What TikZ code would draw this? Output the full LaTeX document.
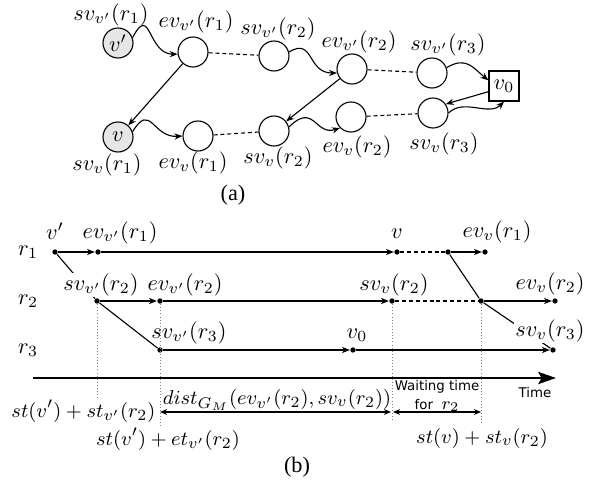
\documentclass[tikz,border=0pt]{standalone}
\usepackage{amsmath}
\usepackage{fontspec}
\usepackage{tikz}
\usetikzlibrary{arrows.meta}
\newfontfamily\capfont{Liberation Serif}
\newfontfamily\tagfont{DejaVu Sans}
\definecolor{srcgray}{RGB}{230,230,230}

\begin{document}
\begin{tikzpicture}[x=0.45pt, y=-0.45pt,
  evnode/.style={circle, draw, line width=0.5pt, minimum size=13.5pt, inner sep=0pt},
  srcnode/.style={evnode, fill=srcgray},
  boxnode/.style={rectangle, draw, line width=0.5pt, minimum size=13.5pt, inner sep=0pt},
  arr/.style={line width=0.5pt, -{Stealth[length=3.6pt, width=2.8pt]}},
  link/.style={line width=0.5pt, dash pattern=on 1.8pt off 1.3pt},
  dot/.style={circle, fill, inner sep=0pt, minimum size=2.4pt},
  guide/.style={gray, line width=0.4pt, densely dotted},
  cover/.style={fill=white, inner sep=0.5pt},
  small/.style={font=\fontsize{9.3}{11}\selectfont, inner sep=1pt},
  axis/.style={line width=0.9pt, -{Stealth[length=8pt, width=5.5pt, inset=1.5pt]}},
  span/.style={line width=0.5pt, {Stealth[length=3.2pt, width=2.6pt]}-{Stealth[length=3.2pt, width=2.6pt]}}]

\useasboundingbox (0,0) rectangle (592,485);

% ---------------- (a) ----------------
% Nodes
\node[srcnode] (vp) at (118,43) {$v'$};
\node[evnode] (evp1) at (193,52) {};
\node[evnode] (svp2) at (274,56) {};
\node[evnode] (evp2) at (352,69) {};
\node[evnode] (svp3) at (432,73) {};
\node[boxnode] (vz) at (504,86) {$v_0$};
\node[evnode] (sv3) at (433,113) {};
\node[evnode] (ev2) at (351,117) {};
\node[evnode] (sv2) at (274,131) {};
\node[evnode] (ev1) at (198,136) {};
\node[srcnode] (vv) at (118,137) {$v$};

% Labels
\node at (111,15) {$sv_{v'}(r_1)$};
\node at (196,22) {$ev_{v'}(r_1)$};
\node at (278,29) {$sv_{v'}(r_2)$};
\node at (359,42) {$ev_{v'}(r_2)$};
\node at (448,45) {$sv_{v'}(r_3)$};
\node at (107,165) {$sv_v(r_1)$};
\node at (193,163) {$ev_v(r_1)$};
\node at (278,158) {$sv_v(r_2)$};
\node at (357,147) {$ev_v(r_2)$};
\node at (444,144) {$sv_v(r_3)$};

% Dashed links
\foreach \a/\b in {evp1/svp2, evp2/svp3, ev1/sv2, ev2/sv3} {
  \draw[link] (\a) -- (\b);
}

% Curvy links
\draw[arr] (vp.20) .. controls +(18,-35) and +(-30,0) .. (evp1.188);
\draw[arr] (vv.20) .. controls +(18,-30) and +(-30,2) .. (ev1.west);
\draw[arr] (svp2.15) .. controls +(25,-15) and +(-30,0) .. (evp2.195);
\draw[arr] (sv2.15) .. controls +(25,-25) and +(-25,8) .. (ev2.225);
\draw[arr] (svp3.20) .. controls +(20,-12) and +(-15,-12) .. (vz.160);
\draw[arr] (sv3.east) .. controls +(15,-15) and +(-15,15) .. (vz.south);

% Straight links
\draw[arr] (evp1) -- (vv);
\draw[arr] (evp2) -- (sv2);
\draw[arr] (vz.200) -- (sv3.35);

\node at (233,195) {\capfont (a)};

% ---------------- (b) ----------------
\foreach \r/\y in {1/252, 2/301, 3/350} {
  \node at (28,\y) {$r_\r$};
}

% Events on each robot line
\node[dot] (r1a) at (55,252) {};
\node[dot] (r1b) at (98,252) {};
\node[dot] (r1c) at (397,252) {};
\node[dot] (r1d) at (448,252) {};
\node[dot] (r1e) at (485,252) {};
\node[dot] (r2a) at (97,301) {};
\node[dot] (r2b) at (160,301) {};
\node[dot] (r2c) at (392,301) {};
\node[dot] (r2d) at (481,301) {};
\node[dot] (r2e) at (555,301) {};
\node[dot] (r3a) at (160,350) {};
\node[dot] (r3b) at (353,350) {};
\node[dot] (r3c) at (553,350) {};

\foreach \a/\b in {r1a/r1b, r1b/r1c, r1d/r1e, r2a/r2b, r2b/r2c, r2d/r2e, r3a/r3b, r3b/r3c} {
  \draw[arr] (\a) -- (\b);
}
\draw[link] (r1c) -- (r1d);
\draw[link] (r2c) -- (r2d);

% Hand-overs
\draw[line width=0.5pt] (r1a) -- (r2a) -- (r3a);
\draw[line width=0.5pt] (r1d) -- (r2d) -- (r3c);

% Guides down to the time line
\coordinate (g1) at (97,398);
\coordinate (g2) at (160,427);
\coordinate (g3) at (392,422);
\coordinate (g4) at (481,425);
\foreach \a/\b in {r2a/g1, r2b/g2, r2c/g3, r2d/g4} {
  \draw[guide] (\a) -- (\b);
}

% Event labels
\node at (55,231) {$v'$};
\node at (120,233) {$ev_{v'}(r_1)$};
\node[cover] at (101,285) {$sv_{v'}(r_2)$};
\node at (185,285) {$ev_{v'}(r_2)$};
\node at (189,333) {$sv_{v'}(r_3)$};
\node at (397,234) {$v$};
\node at (497,232) {$ev_v(r_1)$};
\node at (394,285) {$sv_v(r_2)$};
\node at (550,284) {$ev_v(r_2)$};
\node at (357,335) {$v_0$};
\node[cover] at (550,331) {$sv_v(r_3)$};

% Time line
\coordinate (t0) at (33,378);
\coordinate (t1) at (556,378);
\draw[axis] (t0) -- (t1);
\node at (535,393) {\tagfont\fontsize{6}{7}\selectfont Time};

% Spans
\coordinate (s1) at (160,412);
\coordinate (s2) at (391,412);
\coordinate (s3) at (393,412);
\coordinate (s4) at (481,412);
\draw[span] (s1) -- (s2);
\draw[span] (s3) -- (s4);

\node[small, anchor=east] at (158,411) {$st(v')+st_{v'}(r_2)$};
\node[small] at (168,439) {$st(v')+et_{v'}(r_2)$};
\node[small] at (277,400) {$dist_{G_M}(ev_{v'}(r_2),sv_v(r_2))$};
\node[align=center, font=\tagfont\fontsize{6}{8.5}\selectfont] at (437,396) {Waiting time\\for\ \ {\fontsize{8}{8}\selectfont$r_2$}};
\node[small] at (482,438) {$st(v)+st_v(r_2)$};

\node at (297,467) {\capfont (b)};

\end{tikzpicture}
\end{document}
